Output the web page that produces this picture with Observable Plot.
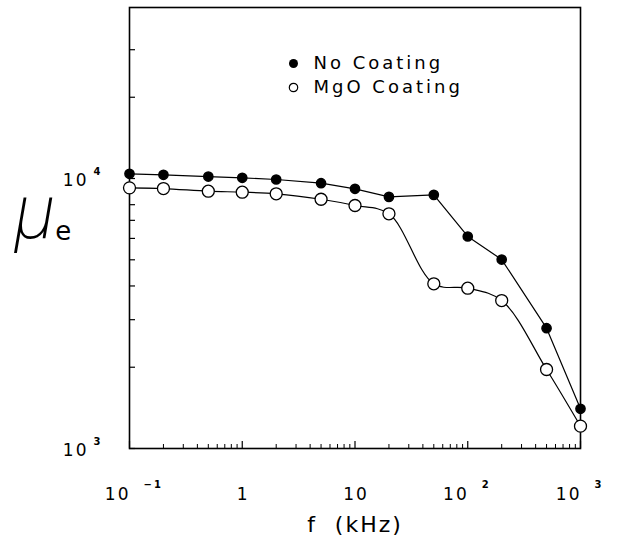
<!DOCTYPE html>
<html><head><meta charset="utf-8">
<script src="https://cdn.jsdelivr.net/npm/d3@7"></script>
<script src="https://cdn.jsdelivr.net/npm/@observablehq/plot@0.6"></script>
<style>
body{margin:0;background:#fff;}
#chart{position:relative;width:626px;height:543px;}
#chart svg text{letter-spacing:2px;}
</style></head><body><div id="chart"></div>
<script>
const freq = [0.1, 0.2, 0.5, 1, 2, 5, 10, 20, 50, 100, 200, 500, 1000];
const noCoating = [10410, 10320, 10170, 10060, 9915, 9610, 9160, 8550, 8700, 6100, 5010, 2790, 1403];
const mgoCoating = [9235, 9180, 8975, 8900, 8780, 8380, 7945, 7400, 4074, 3924, 3532, 1962, 1210];
const seriesNames = ["No Coating", "MgO Coating"];
const xMajorTicks = [0.1, 1, 10, 100, 1000];
const xMinorTicks = [0.2,0.3,0.4,0.5,0.6,0.7,0.8,0.9, 2,3,4,5,6,7,8,9, 20,30,40,50,60,70,80,90, 200,300,400,500,600,700,800,900];
const xTickBase = ["10", "1", "10", "10", "10"];
const xTickExp = ["\u22121", "", "", "2", "3"];
const yMajorTicks = [1000, 10000];
const yMinorTicks = [2000,3000,4000,5000,6000,7000,8000,9000,20000,30000];
const yTickBase = ["10", "10"];
const yTickExp = ["3", "4"];
const xLabel = "f  (kHz)";
const yLabelMain = "\u03bc";
const yLabelSub = "e";

const W = 626, H = 543;
const M = {top: 7, right: 46, bottom: 95, left: 129};
const PW = W - M.left - M.right, PH = H - M.top - M.bottom;
const FONT = "DejaVu Sans";

const rows = [];
freq.forEach((f, i) => {
  rows.push({f, v: noCoating[i], s: seriesNames[0]});
  rows.push({f, v: mgoCoating[i], s: seriesNames[1]});
});
const xLab = xMajorTicks.map((v, i) => ({v, base: xTickBase[i], exp: xTickExp[i]}));
const yLab = yMajorTicks.map((v, i) => ({v, base: yTickBase[i], exp: yTickExp[i]}));

const chart = Plot.plot({
  width: W, height: H,
  marginTop: M.top, marginRight: M.right, marginBottom: M.bottom, marginLeft: M.left,
  style: {fontFamily: FONT, background: "white", color: "black"},
  x: {type: "log", domain: [0.1, 1000], axis: null},
  y: {type: "log", domain: [1000, 43000], axis: null},
  marks: [
    Plot.tickX(xMinorTicks, {x: d => d, insetTop: PH - 4, stroke: "black", strokeWidth: 1}),
    Plot.tickX(xMajorTicks, {x: d => d, insetTop: PH - 7, stroke: "black", strokeWidth: 1.2}),
    Plot.tickY(yMinorTicks.concat(yMajorTicks), {y: d => d, insetRight: PW - 6, stroke: "black", strokeWidth: 1.2}),
    Plot.frame({stroke: "black", strokeWidth: 1.6}),
    Plot.line(rows.filter(d => d.s === seriesNames[0]), {x: "f", y: "v", stroke: "black", strokeWidth: 1.2}),
    Plot.line(rows.filter(d => d.s === seriesNames[1]), {x: "f", y: "v", stroke: "black", strokeWidth: 1.2, curve: "catmull-rom"}),
    Plot.dot(rows.filter(d => d.s === seriesNames[0]), {x: "f", y: "v", r: 4.6, fill: "black", stroke: "black"}),
    Plot.dot(rows.filter(d => d.s === seriesNames[1]), {x: "f", y: "v", r: 6, fill: "white", stroke: "black", strokeWidth: 1.3}),
    // x tick labels
    Plot.text(xLab.filter(d => d.exp), {x: "v", text: "base", frameAnchor: "bottom", lineAnchor: "middle", dy: 46, dx: 1, textAnchor: "end", fontSize: 17}),
    Plot.text(xLab.filter(d => !d.exp), {x: "v", text: "base", frameAnchor: "bottom", lineAnchor: "middle", dy: 46, dx: 1, textAnchor: "middle", fontSize: 17}),
    Plot.text(xLab.filter(d => d.exp), {x: "v", text: "exp", frameAnchor: "bottom", lineAnchor: "middle", dy: 36, dx: 14, textAnchor: "start", fontSize: 10, fontWeight: "bold"}),
    // y tick labels
    Plot.text(yLab, {y: "v", text: "base", frameAnchor: "left", lineAnchor: "middle", dx: -41, dy: 2, textAnchor: "end", fontSize: 17}),
    Plot.text(yLab, {y: "v", text: "exp", frameAnchor: "left", lineAnchor: "middle", dx: -36, dy: -7, textAnchor: "start", fontSize: 10, fontWeight: "bold"}),
    // axis titles
    Plot.text([xLabel], {frameAnchor: "bottom", lineAnchor: "middle", dy: 76, fontSize: 22}),
    Plot.text([yLabelMain], {frameAnchor: "top-left", lineAnchor: "middle", dx: -115, dy: 206, fontSize: 76, fontStyle: "italic", fontWeight: 200, fontFamily: "Roboto, Liberation Sans", textAnchor: "start"}),
    // legend
    Plot.dot([seriesNames[0]], {frameAnchor: "top-left", dx: 164, dy: 56, r: 4.5, fill: "black"}),
    Plot.dot([seriesNames[1]], {frameAnchor: "top-left", dx: 164, dy: 80, r: 4.2, fill: "white", stroke: "black", strokeWidth: 1.2}),
    Plot.text([seriesNames[0]], {frameAnchor: "top-left", lineAnchor: "middle", dx: 184, dy: 56, text: d => d, textAnchor: "start", fontSize: 18}),
    Plot.text([seriesNames[1]], {frameAnchor: "top-left", lineAnchor: "middle", dx: 184, dy: 80, text: d => d, textAnchor: "start", fontSize: 18})
  ]
});
d3.select(chart).selectAll("text")
  .filter(function() { return seriesNames.includes(this.textContent); })
  .style("letter-spacing", "3px");
// attach the subscript "e" to the μ label as a tspan
d3.select(chart).selectAll("text")
  .filter(function() { return this.textContent === yLabelMain; })
  .style("letter-spacing", "0px")
  .append("tspan")
  .attr("dx", 0).attr("dy", 2)
  .style("font-size", "26px").style("font-style", "normal").style("font-weight", "normal")
  .style("font-family", FONT)
  .text(yLabelSub);
document.getElementById("chart").appendChild(chart);
</script>
</body></html>
